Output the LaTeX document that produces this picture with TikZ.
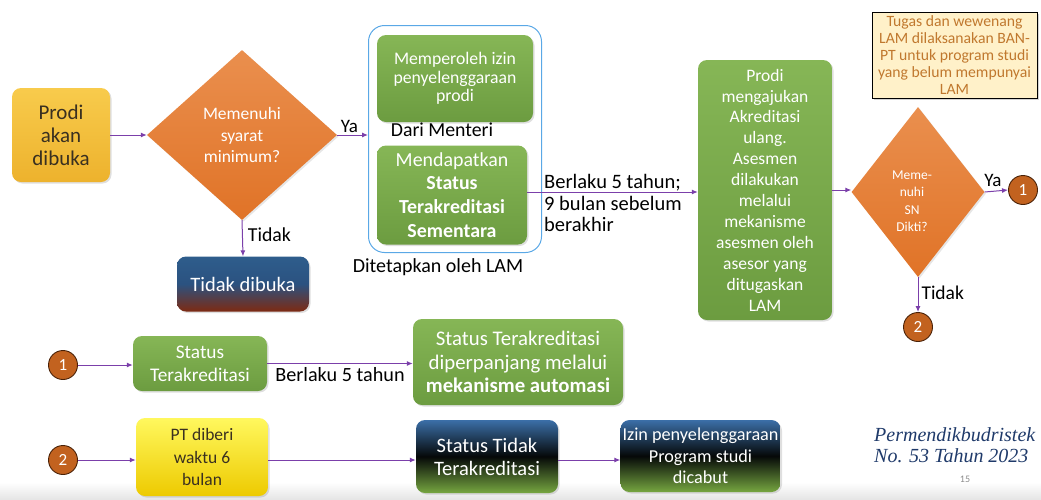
\documentclass[tikz,border=0pt]{standalone}
\usepackage{fontspec}
\setmainfont{Carlito}
\newfontfamily\permfont{Liberation Serif}
\usetikzlibrary{shapes.geometric,arrows.meta,shadows}
\definecolor{flowpurple}{HTML}{7B3FAA}
\definecolor{leafA}{HTML}{86B656}
\definecolor{leafB}{HTML}{6C9C40}
\definecolor{orangeA}{HTML}{EA8F4E}
\definecolor{orangeB}{HTML}{E07327}
\definecolor{noteText}{HTML}{C0782E}
\definecolor{noteFill}{HTML}{FFF1C9}
\definecolor{ballFill}{HTML}{C2621F}
\definecolor{ballLine}{HTML}{4A2208}
\definecolor{lawBlue}{HTML}{1F3A6A}
\definecolor{footGray}{HTML}{E6E6E6}
\definecolor{sunA}{HTML}{F8CB4C}
\definecolor{sunB}{HTML}{EDB22D}
\definecolor{inkBrown}{HTML}{3A3020}
\definecolor{closedA}{HTML}{2E5D8C}
\definecolor{closedM}{HTML}{2B5280}
\definecolor{closedB}{HTML}{7E2A12}
\definecolor{groupBlue}{HTML}{5AA8E6}
\definecolor{nightA}{HTML}{3B6FA8}
\definecolor{nightM}{HTML}{050808}
\definecolor{nightB}{HTML}{76A640}
\definecolor{lemonA}{HTML}{FFF85E}
\definecolor{lemonB}{HTML}{EDCA00}
\definecolor{pageGray}{HTML}{8C8C8C}
\newcommand{\fsz}[2]{\fontsize{#1}{#2}\selectfont}
\tikzset{
  box/.style={rounded corners=9pt, align=center, inner sep=2pt,
    drop shadow={opacity=0.25, shadow xshift=1.5pt, shadow yshift=-1.5pt}},
  greenbox/.style={box, top color=leafA, bottom color=leafB, text=white},
  nightbox/.style={box, top color=nightA, bottom color=nightB, middle color=nightM, text=white},
  decide/.style={diamond, inner sep=0pt, top color=orangeA, bottom color=orangeB,
    text=white, align=center,
    drop shadow={opacity=0.2, shadow xshift=1.5pt, shadow yshift=-1.5pt}},
  ball/.style={circle, minimum size=29pt, inner sep=0pt, fill=ballFill, draw=ballLine,
    line width=0.9pt, text=white, font=\fsz{17}{19}},
  arr/.style={draw=flowpurple, line width=1pt, -{Latex[length=6pt,width=5pt]}},
  lbl/.style={text=black, inner sep=1pt}
}
\begin{document}
\begin{tikzpicture}[x=1pt,y=-1pt]
\useasboundingbox (0,0) rectangle (1041,499);
% faint slide footer
\fill[top color=white, bottom color=footGray] (0,482) rectangle (1041,499);

% opening decision
\node[box, minimum width=98pt, minimum height=94pt, top color=sunA, bottom color=sunB,
  text=inkBrown, font=\fsz{21}{23}] (prodi) at (61,135) {Prodi\\akan\\dibuka};
\node[decide, minimum width=190pt, minimum height=170pt, font=\fsz{17.5}{21.5}] (d1) at (242,135)
  {Memenuhi\\syarat\\minimum?};
\node[box, minimum width=132pt, minimum height=55pt, top color=closedA, bottom color=closedB,
  middle color=closedM, text=white, font=\fsz{20.5}{22}] (tidakbuka) at (243,284) {Tidak dibuka};

% LAM group
\node[draw=groupBlue, line width=1pt, rounded corners=16pt, minimum width=173pt, minimum height=227pt]
  (grp) at (455,139) {};
\node[greenbox, minimum width=156pt, minimum height=87pt, font=\fsz{17.7}{18.5}] (izin) at (455,78.5)
  {Memperoleh izin\\penyelenggaraan\\prodi};
\node[lbl, font=\fsz{19.8}{21}] (dari) at (442,130) {Dari Menteri};
\node[greenbox, minimum width=150pt, minimum height=99pt, font=\fsz{19.9}{23.7}] (sementara) at (452,195)
  {Mendapatkan\\\textbf{Status}\\\textbf{Terakreditasi}\\\textbf{Sementara}};
\node[lbl, font=\fsz{20}{22}] (ditetapkan) at (438,267) {Ditetapkan oleh LAM};

% reaccreditation
\node[greenbox, minimum width=134pt, minimum height=260pt, font=\fsz{17.5}{20.9}] (ajukan) at (765,190)
  {Prodi\\mengajukan\\Akreditasi\\ulang.\\Asesmen\\dilakukan\\melalui\\mekanisme\\asesmen oleh\\asesor yang\\ditugaskan\\LAM};
\node[decide, minimum width=133pt, minimum height=170pt] (d2) at (918,192) {};
\node[text=white, align=center, font=\fsz{13.5}{17.5}, inner sep=0pt] (d2txt) at (912,201)
  {Meme-\\nuhi\\SN\\Dikti?};
\node[ball] (ya1) at (1023,190) {1};
\node[ball] (no2) at (918,327) {2};

% note
\node[draw=black, line width=1pt, fill=noteFill, minimum width=165pt, minimum height=86pt, align=center,
  text=noteText, font=\fsz{15.7}{17}, inner sep=1pt,
  drop shadow={opacity=0.35, shadow xshift=2pt, shadow yshift=-2pt}] (note) at (954.5,55)
  {Tugas dan wewenang\\LAM dilaksanakan BAN-\\PT untuk program studi\\yang belum mempunyai\\LAM};

% connectors, upper part
\draw[arr] (prodi.east) -- (d1.west);
\draw[arr] (d1.east) -- node[lbl, above=1pt, pos=0.4, font=\fsz{19}{20}] (yaA) {Ya} (grp.west |- d1.east);
\draw[arr] (d1.south) -- node[lbl, right=4pt, pos=0.4, font=\fsz{19.8}{21}] (tidakA) {Tidak} (tidakbuka.north);
\draw[arr] (sementara.east |- 0,192) -- (ajukan.west |- 0,192);
\node[lbl, anchor=west, align=left, font=\fsz{20.5}{21.5}] (berlaku) at (543,203)
  {Berlaku 5 tahun;\\9 bulan sebelum\\berakhir};
\draw[arr] (ajukan.east |- 0,190) -- (d2.west |- 0,190);
\draw[arr] (d2.east) -- node[lbl, above=3pt, pos=0.35, font=\fsz{19}{20}] (yaB) {Ya} (ya1.west);
\draw[arr] (d2.south) -- node[lbl, right=2pt, pos=0.45, font=\fsz{19.5}{21}] (tidakB) {Tidak} (no2.north);

% row 1
\node[ball] (r1) at (63,365) {1};
\node[greenbox, minimum width=134pt, minimum height=55pt, font=\fsz{19.3}{23}] (st1) at (200,363.5)
  {Status\\Terakreditasi};
\node[greenbox, minimum width=210pt, minimum height=86pt, font=\fsz{20.8}{23.5}] (st2) at (518,362)
  {Status Terakreditasi\\diperpanjang melalui\\\textbf{mekanisme automasi}};
\draw[arr] (r1.east) -- (st1.west |- r1.east);
\draw[arr] (st1.east) -- node[lbl, below=2pt, font=\fsz{20.2}{21}] (lima) {Berlaku 5 tahun} (st2.west |- st1.east);

% row 2
\node[ball] (r2) at (63,460) {2};
\node[box, minimum width=132pt, minimum height=78pt, top color=lemonA, bottom color=lemonB,
  text=inkBrown, font=\fsz{17.5}{22.5}] (pt) at (202,457) {PT diberi\\waktu 6\\bulan};
\node[nightbox, minimum width=142pt, minimum height=73pt, font=\fsz{20.5}{23}] (stt) at (487,456.5)
  {Status Tidak\\Terakreditasi};
\node[nightbox, minimum width=156pt, minimum height=72pt, font=\fsz{18.2}{21.5}] (izc) at (700.5,456)
  {Izin penyelenggaraan\\Program studi\\dicabut};
\draw[arr] (r2.east) -- (pt.west |- r2.east);
\draw[arr] (pt.east |- 0,460) -- (stt.west |- 0,460);
\draw[arr] (stt.east |- 0,460) -- (izc.west |- 0,460);

% reference
\node[anchor=west, align=left, text=lawBlue, font=\permfont\itshape\fsz{20}{21}, inner sep=0pt] (perm)
  at (874,445) {Permendikbudristek\\No. 53 Tahun 2023};
\node[text=pageGray, font=\fsz{10}{12}] (page) at (965,479) {15};
\end{tikzpicture}
\end{document}
